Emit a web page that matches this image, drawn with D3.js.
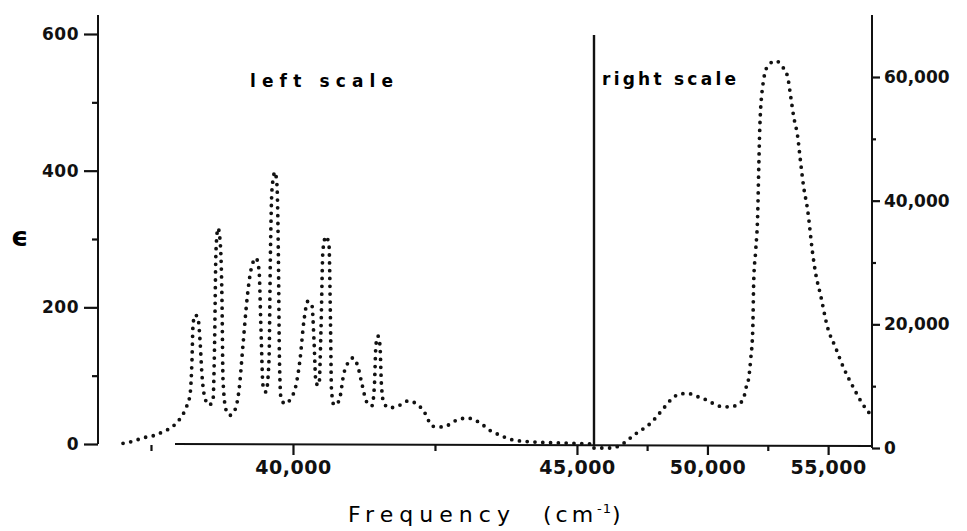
<!DOCTYPE html>
<html>
<head>
<meta charset="utf-8">
<script src="https://cdn.jsdelivr.net/npm/d3@7"></script>
<style>
  body { margin: 0; background: #fff; }
  svg { display: block; }
  .tick text { font-family: "DejaVu Sans", sans-serif; font-weight: bold; fill: #111; }
  .tick line { stroke: #111; stroke-width: 2.2; }
</style>
</head>
<body>
<svg width="967" height="531"></svg>
<script>
// left band: frequency in cm-1, epsilon
const leftFreq = [37008, 37184, 37360, 37536, 37712, 37888, 38011, 38117, 38187, 38222,
  38240, 38275, 38328, 38363, 38398, 38451, 38522, 38592, 38618, 38645,
  38680, 38715, 38750, 38768, 38821, 38891, 38979, 39050, 39120, 39190,
  39261, 39349, 39402, 39437, 39472, 39525, 39578, 39604, 39630, 39683,
  39718, 39744, 39762, 39789, 39859, 39965, 40053, 40123, 40194, 40264,
  40334, 40370, 40405, 40458, 40493, 40528, 40581, 40634, 40660, 40678,
  40722, 40810, 40898, 40986, 41056, 41144, 41214, 41302, 41390, 41434,
  41461, 41496, 41531, 41558, 41602, 41707, 41883, 42024, 42288, 42464,
  42640, 42886, 43062, 43291, 43467, 43643, 43872, 44224, 44928, 45298];
const leftEps = [1, 4, 9, 12, 18, 26, 37, 53, 72, 123,
  174, 189, 184, 152, 101, 67, 57, 64, 138, 284,
  316, 299, 211, 94, 50, 42, 50, 79, 145, 211,
  255, 272, 255, 167, 86, 76, 123, 284, 372, 398,
  379, 269, 123, 67, 59, 67, 86, 123, 181, 209,
  203, 152, 89, 86, 167, 284, 304, 291, 181, 79,
  57, 63, 104, 121, 126, 113, 88, 61, 56, 86,
  145, 158, 145, 86, 59, 53, 57, 63, 50, 26,
  25, 35, 38, 31, 20, 13, 6, 3, 1, 0];

// right band
const rightFreq = [45300, 46010, 46547, 46960, 47332, 47663, 47993, 48200, 48572, 48902,
  49233, 49605, 49935, 50266, 50638, 50886, 51258, 51505, 51588, 51712,
  51795, 51877, 51919, 52001, 52084, 52125, 52167, 52291, 52497, 52828,
  53117, 53324, 53447, 53571, 53737, 53861, 53985, 54150, 54357, 54481,
  54688, 54977, 55307, 55638, 56051, 56423, 56700];
const rightEps = [0, 0, 813, 2114, 3089, 4065, 5528, 6504, 8130, 8780,
  8780, 8293, 7805, 7154, 6667, 6667, 6992, 8130, 9593, 11382,
  14471, 19024, 27154, 32032, 38048, 45040, 51544, 58536, 61788, 62601,
  61626, 60000, 56910, 53658, 50406, 46178, 42276, 38536, 31544, 28292,
  24715, 19512, 16260, 13008, 9756, 7154, 5691];

const xMajor = [40000, 45000, 50000, 55000];
const xMinor = [37500, 42500, 47500, 52500];
const leftTicks = [0, 200, 400, 600];
const leftMinor = [100, 300, 500];
const rightTicks = [0, 20000, 40000, 60000];
const rightMinor = [10000, 30000, 50000];

const svg = d3.select("svg");
svg.append("rect").attr("width", 967).attr("height", 531).attr("fill", "#fff");

// the frequency axis changes its scale at the divider
const x = d3.scaleLinear().domain([36567, 45300, 56818]).range([98, 594, 872]);
const yL = d3.scaleLinear().domain([0, 600]).range([444, 34]);
const yR = d3.scaleLinear().domain([0, 60000]).range([448, 77]);

// frames
svg.append("line").attr("x1", 98).attr("x2", 98).attr("y1", 15).attr("y2", 444)
   .attr("stroke", "#111").attr("stroke-width", 2);
svg.append("line").attr("x1", 175).attr("x2", 872).attr("y1", 444).attr("y2", 446)
   .attr("stroke", "#111").attr("stroke-width", 2);
svg.append("line").attr("x1", 872).attr("x2", 872).attr("y1", 15).attr("y2", 448)
   .attr("stroke", "#111").attr("stroke-width", 2);
svg.append("line").attr("x1", x(45300)).attr("x2", x(45300)).attr("y1", 35).attr("y2", 445)
   .attr("stroke", "#111").attr("stroke-width", 2.4);

// x axis
const gx = svg.append("g").attr("transform", "translate(0,445)")
  .call(d3.axisBottom(x).tickValues(xMajor).tickSize(10).tickPadding(6).tickFormat(d3.format(",")));
gx.select(".domain").remove();
gx.selectAll("text").style("font-size", "19px").attr("letter-spacing", 0.5);

const gxm = svg.append("g").attr("transform", "translate(0,445)")
  .call(d3.axisBottom(x).tickValues(xMinor).tickSize(6).tickFormat(""));
gxm.select(".domain").remove();

// left axis
const gl = svg.append("g").attr("transform", "translate(98,0)")
  .call(d3.axisLeft(yL).tickValues(leftTicks).tickSize(14).tickPadding(5));
gl.select(".domain").remove();
gl.selectAll("text").style("font-size", "17px").attr("letter-spacing", 0.5);

const glm = svg.append("g").attr("transform", "translate(98,0)")
  .call(d3.axisLeft(yL).tickValues(leftMinor).tickSize(6).tickFormat(""));
glm.select(".domain").remove();

// right axis
const gr = svg.append("g").attr("transform", "translate(872,0)")
  .call(d3.axisRight(yR).tickValues(rightTicks).tickSize(8).tickPadding(4).tickFormat(d3.format(",")));
gr.select(".domain").remove();
gr.selectAll("text").style("font-size", "17px");

const grm = svg.append("g").attr("transform", "translate(872,0)")
  .call(d3.axisRight(yR).tickValues(rightMinor).tickSize(4).tickFormat(""));
grm.select(".domain").remove();

// dotted curves
const lineL = d3.line().x(d => x(d[0])).y(d => yL(d[1])).curve(d3.curveMonotoneX);
const lineR = d3.line().x(d => x(d[0])).y(d => yR(d[1])).curve(d3.curveMonotoneX);

function dotted(path) {
  path.attr("fill", "none")
      .attr("stroke", "#111")
      .attr("stroke-width", 3.8)
      .attr("stroke-linecap", "round")
      .attr("stroke-dasharray", "0 7.8");
}

svg.append("path").datum(d3.zip(leftFreq, leftEps)).attr("d", lineL).call(dotted);
svg.append("path").datum(d3.zip(rightFreq, rightEps)).attr("d", lineR).call(dotted);

// labels
svg.append("text").attr("x", 250).attr("y", 87)
   .attr("font-family", "DejaVu Sans").attr("font-weight", "bold").attr("font-size", 17)
   .attr("textLength", 143).attr("lengthAdjust", "spacing")
   .text("left scale");

svg.append("text").attr("x", 602).attr("y", 85)
   .attr("font-family", "DejaVu Sans").attr("font-weight", "bold").attr("font-size", 17)
   .attr("textLength", 134).attr("lengthAdjust", "spacing")
   .text("right scale");

svg.append("text").attr("x", 11).attr("y", 246)
   .attr("font-family", "DejaVu Sans").attr("font-weight", "bold").attr("font-size", 27)
   .text("ϵ");

svg.append("text").attr("x", 348).attr("y", 522)
   .attr("font-family", "DejaVu Sans").attr("font-size", 22)
   .attr("textLength", 162).attr("lengthAdjust", "spacing")
   .text("Frequency");

const unit = svg.append("text").attr("x", 543).attr("y", 522)
   .attr("font-family", "DejaVu Sans").attr("font-size", 22).attr("letter-spacing", 4);
unit.append("tspan").text("(cm");
unit.append("tspan").attr("dy", -9).attr("font-size", 13).attr("letter-spacing", 1).text("-1");
unit.append("tspan").attr("dy", 9).text(")");
</script>
</body>
</html>
